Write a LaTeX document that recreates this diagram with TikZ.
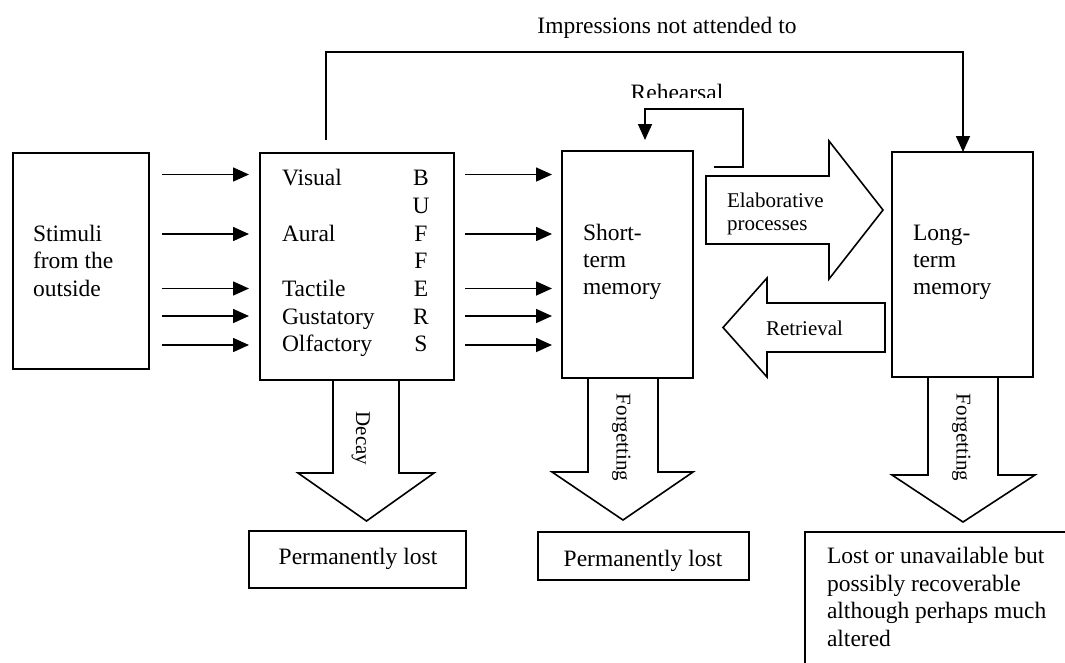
\documentclass[tikz,border=0pt]{standalone}
\usepackage{fontspec}
\setmainfont{Liberation Serif}
\usetikzlibrary{arrows.meta}
\begin{document}
\begin{tikzpicture}[x=1pt,y=-1pt,
  every node/.style={inner sep=0pt, outer sep=0pt},
  main/.style={font=\fontsize{23.5}{27.5}\selectfont},
  lbl/.style={font=\fontsize{21}{24}\selectfont},
  box/.style={draw, line width=1.6pt, inner sep=0pt},
  arr/.style={line width=1.6pt, -{Triangle[length=16pt,width=14pt]}},
  plain/.style={line width=1.6pt},
  blk/.style={draw, line width=1.6pt, line join=miter},
]
\useasboundingbox (0,0) rectangle (1065,662);
\clip (0,0) rectangle (1065,662);

% boxes
\node[box, minimum width=136pt, minimum height=216pt] (stim) at (81,261) {};
\node[box, minimum width=194pt, minimum height=227pt] (buf) at (357,266.5) {};
\node[box, minimum width=131pt, minimum height=227pt] (stm) at (627.5,264.5) {};
\node[box, minimum width=141pt, minimum height=225pt] (ltm) at (962.5,264.5) {};
\node[box, minimum width=217pt, minimum height=57pt] (pl1) at (357.5,559.5) {};
\node[box, minimum width=211pt, minimum height=48pt] (pl2) at (643.5,556) {};
\node[box, minimum width=270pt, minimum height=148pt, anchor=north west] (lost) at (805,532) {};

% texts in boxes
\node[main, anchor=base west] at (33,241) {Stimuli};
\node[main, anchor=base west] at (33,268.5) {from the};
\node[main, anchor=base west] at (33,296) {outside};

\node[main, anchor=base west] at (282,185.5) {Visual};
\node[main, anchor=base west] at (282,241) {Aural};
\node[main, anchor=base west] at (282,296) {Tactile};
\node[main, anchor=base west] at (282,324) {Gustatory};
\node[main, anchor=base west] at (282,351.5) {Olfactory};
\node[main, anchor=base] at (421,185.5) {B};
\node[main, anchor=base] at (421,213) {U};
\node[main, anchor=base] at (421,241) {F};
\node[main, anchor=base] at (421,268.5) {F};
\node[main, anchor=base] at (421,296) {E};
\node[main, anchor=base] at (421,324) {R};
\node[main, anchor=base] at (421,351.5) {S};

\node[main, anchor=base west] at (583,240) {Short-};
\node[main, anchor=base west] at (583,267) {term};
\node[main, anchor=base west] at (583,294.5) {memory};

\node[main, anchor=base west] at (913,240) {Long-};
\node[main, anchor=base west] at (913,267) {term};
\node[main, anchor=base west] at (913,294.5) {memory};

\node[main, anchor=base] at (358,564) {Permanently lost};
\node[main, anchor=base] at (643,566) {Permanently lost};

\node[main, anchor=base west] at (827,563.5) {Lost or unavailable but};
\node[main, anchor=base west] at (827,591) {possibly recoverable};
\node[main, anchor=base west] at (827,618.5) {although perhaps much};
\node[main, anchor=base west] at (827,646) {altered};

% arrow rows
\coordinate (r1) at (0,174.5);
\coordinate (r2) at (0,234);
\coordinate (r3) at (0,288.5);
\coordinate (r4) at (0,316);
\coordinate (r5) at (0,345);
\foreach \r in {r1,r2,r3,r4,r5}{
  \draw[arr, shorten <=13pt, shorten >=11pt] (stim.east |- \r) -- (buf.west |- \r);
  \draw[arr, shorten <=11pt, shorten >=10pt] (buf.east |- \r) -- (stm.west |- \r);
}

% impressions not attended to
\coordinate (imp1) at (326,52);
\coordinate (imp2) at (963,52);
\draw[arr, shorten <=13pt] (buf.north -| imp1) -- (imp1) -- (imp2) -- (ltm.north -| imp2);
\node[main, anchor=base] at (667,33) {Impressions not attended to};

% rehearsal
\coordinate (rh0) at (714,167);
\coordinate (rh1) at (743,109);
\coordinate (rh2) at (645,109);
\draw[arr, shorten >=11pt] (rh0) -| (rh1) -- (rh2) -- (stm.north -| rh2);
\begin{scope}
  \clip (600,60) rectangle (760,97);
  \node[main, anchor=base] at (677,100.5) {Rehearsal};
\end{scope}

% elaborative processes
\draw[blk] (706,176) -- (829,176) -- (829,141) -- (883,210) -- (829,279) -- (829,244) -- (706,244) -- cycle;
\node[lbl, anchor=base west] at (727,207) {Elaborative};
\node[lbl, anchor=base west] at (727,230.5) {processes};

% retrieval
\draw[blk] (723,327.5) -- (767,278) -- (767,303) -- (885,303) -- (885,352) -- (767,352) -- (767,377) -- cycle;
\node[lbl, anchor=base west] at (766,335) {Retrieval};

% down arrows
\draw[blk] (333,380) -- (333,473) -- (298,473) -- (366.5,521) -- (434,473) -- (399,473) -- (399,380);
\node[lbl, anchor=base, rotate=-90] at (356,438.5) {Decay};

\draw[blk] (588,378) -- (588,472) -- (552,472) -- (623,520) -- (693,472) -- (658,472) -- (658,378);
\node[lbl, anchor=base, rotate=-90] at (616.5,437.5) {Forgetting};

\draw[blk] (928,377) -- (928,475) -- (892,475) -- (963,522) -- (1035,475) -- (998,475) -- (998,377);
\node[lbl, anchor=base, rotate=-90] at (956.5,437.5) {Forgetting};
\end{tikzpicture}
\end{document}
